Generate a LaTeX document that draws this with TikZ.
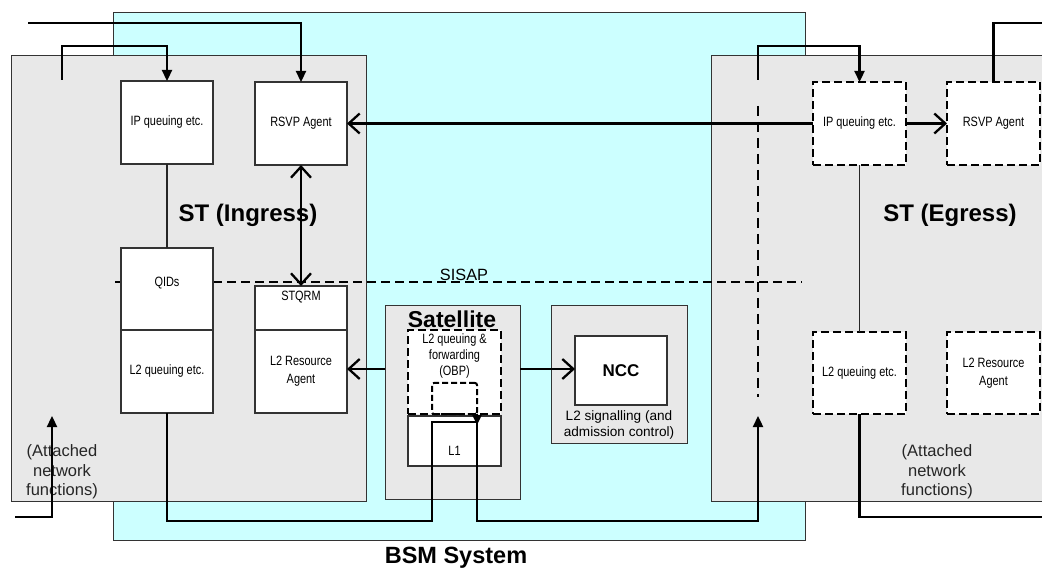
\documentclass[tikz,border=0pt]{standalone}
\usepackage{fontspec}
\setmainfont{Liberation Sans}
\newfontfamily\narrowfont[FakeStretch=0.81]{Liberation Sans}
\usetikzlibrary{arrows.meta}
\definecolor{bsmcyan}{HTML}{CCFFFF}
\definecolor{stgray}{HTML}{E8E8E8}
\definecolor{edgec}{HTML}{333333}
\tikzset{
  openarr/.tip={Straight Barb[length=11pt,width=20pt]},
  fillarr/.tip={Triangle[length=11pt,width=10pt]},
  smallarr/.tip={Triangle[length=10pt,width=9pt]}
}
\begin{document}
\begin{tikzpicture}[x=1pt,y=-1pt,
  area/.style={draw=edgec, line width=1pt, fill=stgray, anchor=north west, inner sep=0pt, outer sep=0pt},
  wbox/.style={draw=edgec, line width=1.2pt, fill=white, anchor=north west, inner sep=0pt, outer sep=0pt,
    font=\narrowfont\fontsize{13.5}{17}\selectfont, align=center},
  dbox/.style={draw=black, line width=2pt, dash pattern=on 8pt off 4pt, fill=white, anchor=north west,
    inner sep=0pt, outer sep=0pt, font=\narrowfont\fontsize{13.5}{17}\selectfont, align=center},
  lbl/.style={font=\narrowfont\fontsize{13.5}{16}\selectfont, align=center, inner sep=0pt},
  attlbl/.style={font=\fontsize{16.5}{19.5}\selectfont, align=center, inner sep=0pt, text=black!85},
  title/.style={font=\bfseries\fontsize{24}{28}\selectfont, inner sep=0pt},
  wire/.style={draw=black, line width=2.3pt},
  linkline/.style={draw=black!85, line width=1.4pt}
]
\clip (0,0) rectangle (1042,569);
\fill[white] (0,0) rectangle (1042,569);

% BSM system area
\draw[draw=edgec, line width=1pt, fill=bsmcyan] (113,13) rectangle (805,540);
% ST areas
\node[area, minimum width=355pt, minimum height=445pt] (ing) at (11,56) {};
\node[area, minimum width=340pt, minimum height=445pt] (egr) at (711,56) {};

% SISAP dashed line
\coordinate (sa) at (115,282);
\coordinate (sb) at (802,282);
\draw[line width=2.1pt, dash pattern=on 9pt off 5pt] (sa) -- (sb);
\node[font=\fontsize{16.3}{19}\selectfont, inner sep=0pt, anchor=base] (sisap) at (464,281) {SISAP};

% egress vertical dashed line
\coordinate (ev1) at (758,106);
\coordinate (ev2) at (758,397);
\draw[line width=2.1pt, dash pattern=on 10pt off 6pt] (ev1) -- (ev2);

% Ingress boxes
\node[wbox, minimum width=92pt, minimum height=83pt] (ipq) at (121,81) {IP queuing etc.};
\node[wbox, minimum width=92pt, minimum height=83pt] (rsvp) at (255,82) {RSVP Agent};
\node[wbox, minimum width=92pt, minimum height=82pt] (qids) at (121,248) {};
\node[lbl] (qidst) at (167,283) {QIDs};
\node[wbox, minimum width=92pt, minimum height=83pt] (l2q) at (121,330) {L2 queuing etc.};
\node[wbox, minimum width=92pt, minimum height=44pt] (stqrm) at (255,286) {};
\node[lbl] (stqrmt) at (301,297) {STQRM};
\node[wbox, minimum width=92pt, minimum height=83pt] (l2ra) at (255,330) {L2 Resource\\[1pt]Agent};

% Egress boxes
\node[dbox, minimum width=93pt, minimum height=83pt] (eipq) at (813,82) {IP queuing etc.};
\node[dbox, minimum width=93pt, minimum height=83pt] (ersvp) at (947,82) {RSVP Agent};
\node[dbox, minimum width=93pt, minimum height=82pt] (el2q) at (813,332) {L2 queuing etc.};
\node[dbox, minimum width=93pt, minimum height=82pt] (el2ra) at (947,332) {L2 Resource\\[1pt]Agent};

% Satellite
\node[area, minimum width=135pt, minimum height=193pt] (sat) at (385,306) {};
\node[dbox, minimum width=93pt, minimum height=84pt] (obp) at (408,330) {};
\node[font=\bfseries\fontsize{23}{26}\selectfont, inner sep=0pt, anchor=base] (satt) at (452,328) {Satellite};
\node[lbl, anchor=north] (obpt) at (454.5,334) {L2 queuing \&\\forwarding\\(OBP)};
\node[wbox, minimum width=93pt, minimum height=50pt] (l1) at (408,416) {};
\node[lbl] (l1t) at (454.5,451) {L1};
\node[draw=black, line width=2pt, dash pattern=on 6pt off 3pt, rounded corners=2pt, anchor=north west,
  inner sep=0pt, outer sep=0pt, minimum width=45pt, minimum height=31pt] (obpin) at (432,383) {};

% NCC
\node[area, minimum width=136pt, minimum height=137pt] (nccarea) at (551,306) {};
\node[wbox, minimum width=92pt, minimum height=69pt, font=\bfseries\fontsize{17}{20}\selectfont] (ncc) at (575,336) {NCC};
\node[font=\fontsize{13.6}{16}\selectfont, align=center, inner sep=0pt] (ncct) at (619,425) {L2 signalling (and\\admission control)};

% Titles
\node[title] (tin) at (248,215) {ST (Ingress)};
\node[title] (teg) at (950,215) {ST (Egress)};
\node[font=\bfseries\fontsize{23.5}{27}\selectfont, inner sep=0pt] (tbsm) at (456,558) {BSM System};
\node[attlbl] (atti) at (62,472) {(Attached\\network\\functions)};
\node[attlbl] (atte) at (937,472) {(Attached\\network\\functions)};

% thin links
\draw[linkline] (ipq.south) -- (qids.north);
\draw[linkline] (eipq.south) -- (el2q.north);

% top wires ingress
\coordinate (c1) at (62,80);
\coordinate (c1b) at (62,46);
\draw[wire, -{fillarr}] (c1) -- (c1b) -| (ipq.north);
\coordinate (c2) at (28,23);
\draw[wire, -{fillarr}] (c2) -| (rsvp.north);

% RSVP <-> STQRM
\draw[wire, {openarr}-{openarr}] (rsvp.south) -- (stqrm.north);

% RSVP (ingress) <- IP queuing (egress)
\draw[wire, {openarr}-] (rsvp.east) -- (eipq.west);
\draw[wire, -{openarr}] (eipq.east) -- (ersvp.west);

% egress top wires
\coordinate (et0) at (758,80);
\coordinate (et1) at (758,46);
\draw[wire, -{fillarr}] (et0) -- (et1) -| (eipq.north);
\coordinate (e6) at (1042,23);
\draw[wire] (ersvp.north) |- (e6);

% egress bottom
\coordinate (e5) at (1042,517);
\draw[wire] (el2q.south) |- (e5);

% ingress bottom left
\coordinate (b0) at (15,517);
\coordinate (b1) at (52,416);
\draw[wire, -{fillarr}] (b0) -| (b1);

% satellite arrows
\coordinate (s1) at (385,369);
\draw[wire, -{openarr}] (s1) -- (s1 -| l2ra.east);
\coordinate (s2) at (520,369);
\draw[wire, -{openarr}] (s2) -- (s2 -| ncc.west);

% path through satellite
\coordinate (p2) at (432,521);
\coordinate (p3) at (432,422);
\coordinate (p4) at (477,422);
\coordinate (p5) at (477,425);
\coordinate (p6) at (477,521);
\coordinate (ear) at (758,416);
\draw[wire] (l2q.south) |- (p2) -- (p3) -- (p4);
\draw[wire, -{smallarr}] (obpin.south east) -- (p5);
\draw[wire, -{fillarr}] (p4) -- (p6) -| (ear);
\end{tikzpicture}
\end{document}
